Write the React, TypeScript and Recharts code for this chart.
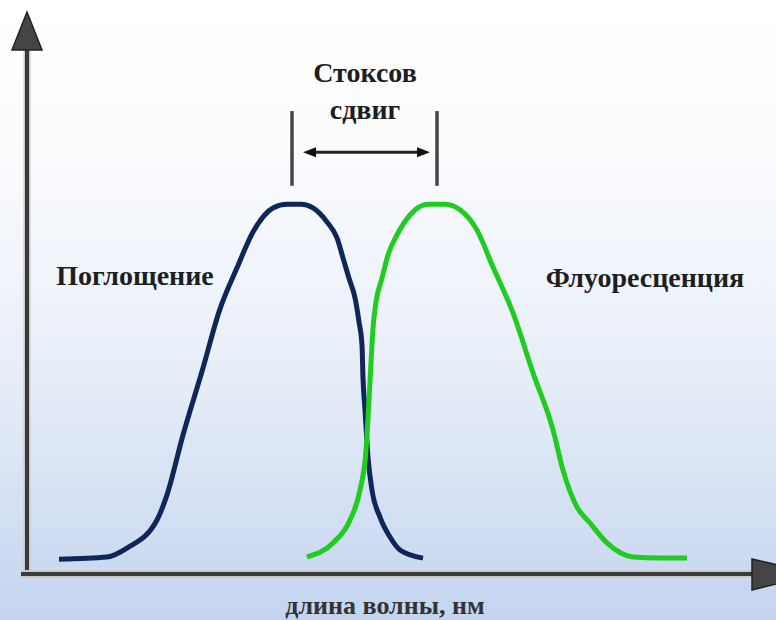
import React from 'react';
import { ComposedChart, Line, XAxis, YAxis, ReferenceLine } from 'recharts';

// wavelength (nm, arbitrary scale) and normalised intensity
const absorptionX = [366, 390, 400, 415, 420, 428, 438, 446, 455, 463, 473, 480, 487, 493, 500, 505, 508, 511, 514, 516, 517.5, 518, 519, 520.5, 522.5, 526.5, 531.5, 536.5, 548];
const absorptionY = [0.04, 0.046, 0.07, 0.146, 0.214, 0.376, 0.557, 0.709, 0.828, 0.925, 0.99, 1.0, 1.0, 0.99, 0.952, 0.909, 0.855, 0.8, 0.747, 0.682, 0.619, 0.53, 0.444, 0.316, 0.227, 0.154, 0.1, 0.065, 0.043];

const emissionX = [490, 503, 511.5, 516.5, 519.5, 521, 522, 523, 524.5, 527.5, 530.5, 535, 541.5, 550.5, 559, 566.5, 575, 583, 593, 603, 613, 618, 625, 631.5, 640, 653, 666.5, 680];
const emissionY = [0.046, 0.084, 0.146, 0.227, 0.335, 0.47, 0.573, 0.665, 0.736, 0.8, 0.863, 0.917, 0.971, 1.0, 1.0, 0.985, 0.93, 0.83, 0.706, 0.544, 0.39, 0.281, 0.181, 0.138, 0.084, 0.046, 0.043, 0.043];

const absorptionPeak = 482.5;
const emissionPeak = 555;
const shiftMarkerLow = 1.05;
const shiftMarkerHigh = 1.252;
const shiftArrowLevel = 1.141;

const absorption = absorptionX.map((x, i) => ({ x, y: absorptionY[i] }));
const emission = emissionX.map((x, i) => ({ x, y: emissionY[i] }));

const AXIS_DARK = '#3a3a3a';
const AXIS_HALO = '#c9c9c9';

const YAxisArrow = (p: any) => (
  <g>
    <line x1={p.x1} y1={p.y1 + 2} x2={p.x2} y2={p.y2 + 30} stroke={AXIS_HALO} strokeWidth={7} />
    <line x1={p.x1} y1={p.y1 + 2} x2={p.x2} y2={p.y2 + 30} stroke={AXIS_DARK} strokeWidth={4} />
    <polygon
      points={`${p.x2},${p.y2} ${p.x2 - 15},${p.y2 + 38} ${p.x2 + 15},${p.y2 + 38}`}
      fill="#444"
      stroke="#222"
      strokeWidth={1.5}
    />
  </g>
);

const XAxisArrow = (p: any) => (
  <g>
    <line x1={p.x1} y1={p.y1} x2={p.x2 - 15} y2={p.y2} stroke={AXIS_HALO} strokeWidth={8} />
    <line x1={p.x1} y1={p.y1} x2={p.x2 - 15} y2={p.y2} stroke={AXIS_DARK} strokeWidth={4} />
    <polygon
      points={`${p.x2 - 19},${p.y2 - 15} ${p.x2 + 45},${p.y2} ${p.x2 - 19},${p.y2 + 16}`}
      fill="#444"
      stroke="#222"
      strokeWidth={1.5}
    />
  </g>
);

const DoubleArrow = (p: any) => (
  <g>
    <line x1={p.x1 + 8} y1={p.y1} x2={p.x2 - 8} y2={p.y2} stroke="#222" strokeWidth={3} />
    <polygon points={`${p.x1},${p.y1} ${p.x1 + 13},${p.y1 - 5} ${p.x1 + 13},${p.y1 + 5}`} fill="#111" />
    <polygon points={`${p.x2},${p.y2} ${p.x2 - 13},${p.y2 - 5} ${p.x2 - 13},${p.y2 + 5}`} fill="#111" />
  </g>
);

const labelFont = '"Liberation Serif", "DejaVu Serif", serif';

export default function App() {
  return (
    <div
      style={{
        position: 'absolute',
        left: 0,
        top: 0,
        width: 776,
        height: 620,
        overflow: 'hidden',
        background: 'linear-gradient(to bottom, #ffffff 0%, #fbfcfe 22%, #e9eff9 58%, #c4d4ef 100%)',
      }}
    >
      <ComposedChart width={776} height={620} margin={{ top: 12, right: 5, bottom: 46, left: 27 }}>
        <XAxis type="number" dataKey="x" domain={[350, 722]} hide allowDataOverflow />
        <YAxis type="number" domain={[0, 1.52]} hide allowDataOverflow />
        <ReferenceLine
          segment={[{ x: 350, y: 0 }, { x: 350, y: 1.52 }]}
          ifOverflow="visible"
          shape={YAxisArrow}
        />
        <ReferenceLine
          segment={[{ x: 347, y: 0 }, { x: 722, y: 0 }]}
          ifOverflow="visible"
          shape={XAxisArrow}
        />
        <ReferenceLine
          segment={[{ x: absorptionPeak, y: shiftMarkerLow }, { x: absorptionPeak, y: shiftMarkerHigh }]}
          stroke="#454545"
          strokeWidth={3.5}
        />
        <ReferenceLine
          segment={[{ x: emissionPeak, y: shiftMarkerLow }, { x: emissionPeak, y: shiftMarkerHigh }]}
          stroke="#454545"
          strokeWidth={3.5}
        />
        <ReferenceLine
          segment={[{ x: absorptionPeak + 5.5, y: shiftArrowLevel }, { x: emissionPeak - 3.5, y: shiftArrowLevel }]}
          shape={DoubleArrow}
        />
        <Line
          data={absorption}
          dataKey="y"
          type="monotone"
          stroke="#0e2658"
          strokeWidth={5}
          dot={false}
          activeDot={false}
          isAnimationActive={false}
        />
        <Line
          data={emission}
          dataKey="y"
          type="monotone"
          stroke="#1fcc1f"
          strokeWidth={5}
          dot={false}
          activeDot={false}
          isAnimationActive={false}
        />
      </ComposedChart>
      <svg
        width={776}
        height={620}
        style={{ position: 'absolute', left: 0, top: 0, pointerEvents: 'none' }}
        fontFamily={labelFont}
        fontWeight="bold"
        fill="#1e1e1e"
        textAnchor="middle"
      >
        <text x={365} y={82} fontSize={28}>Стоксов</text>
        <text x={365} y={119} fontSize={28}>сдвиг</text>
        <text x={135} y={285} fontSize={28}>Поглощение</text>
        <text x={645} y={287} fontSize={28}>Флуоресценция</text>
        <text x={385} y={614} fontSize={26} fill="#333">длина волны, нм</text>
      </svg>
    </div>
  );
}
